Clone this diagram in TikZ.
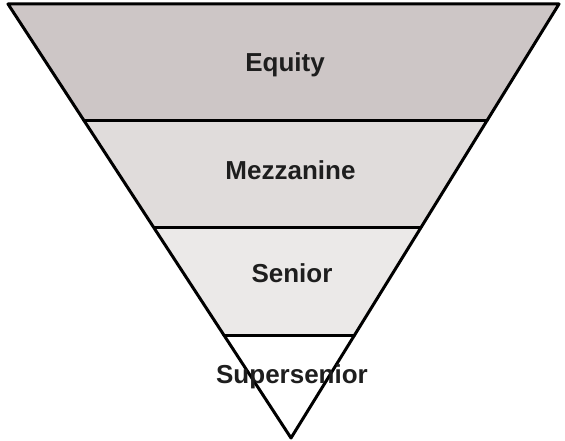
\documentclass[tikz,border=0pt]{standalone}
\usetikzlibrary{calc}
\usepackage{fontspec}
\setmainfont{Liberation Sans}
\definecolor{eqc}{HTML}{CDC6C6}
\definecolor{mzc}{HTML}{E0DCDB}
\definecolor{snc}{HTML}{EBE9E8}
\definecolor{txt}{HTML}{1E1E1E}
\begin{document}
\begin{tikzpicture}[x=1pt,y=-1pt,
  lbl/.style={font=\fontsize{26}{30}\selectfont\bfseries, inner sep=0pt, anchor=base, text=txt},
  edge/.style={line width=3pt, line cap=round, line join=round}]
\useasboundingbox (0,0) rectangle (565,441);
\coordinate (TL) at (8,4);
\coordinate (TR) at (559,4);
\coordinate (AP) at (291,438);
\coordinate (L1) at ($(TL)!0.2673!(AP)$);
\coordinate (R1) at ($(TR)!0.2673!(AP)$);
\coordinate (L2) at ($(TL)!0.5161!(AP)$);
\coordinate (R2) at ($(TR)!0.5161!(AP)$);
\coordinate (L3) at ($(TL)!0.7627!(AP)$);
\coordinate (R3) at ($(TR)!0.7627!(AP)$);
\fill[eqc] (TL) -- (TR) -- (R1) -- (L1) -- cycle;
\fill[mzc] (L1) -- (R1) -- (R2) -- (L2) -- cycle;
\fill[snc] (L2) -- (R2) -- (R3) -- (L3) -- cycle;
\fill[white] (L3) -- (R3) -- (AP) -- cycle;
\draw[edge] (TL) -- (TR) -- (AP) -- cycle;
\draw[edge] (L1) -- (R1);
\draw[edge] (L2) -- (R2);
\draw[edge] (L3) -- (R3);
\node[lbl] (eq) at (285,71.5) {Equity};
\node[lbl] (mz) at (290.5,179) {Mezzanine};
\node[lbl] (sn) at (292,282) {Senior};
\node[lbl] (ss) at (292,383) {Supersenior};
\end{tikzpicture}
\end{document}
